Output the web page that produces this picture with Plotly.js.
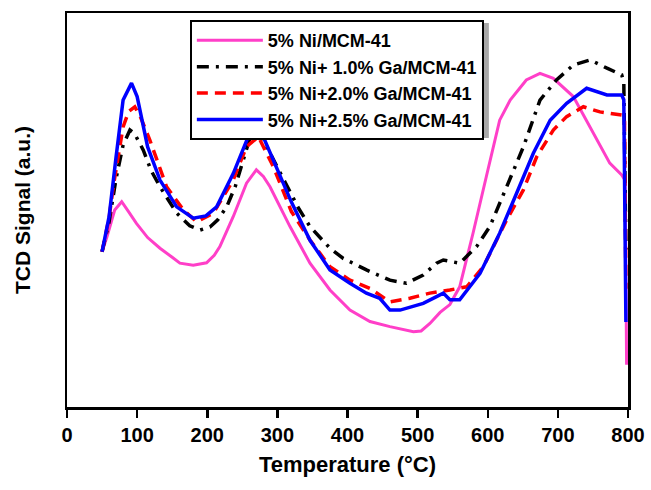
<!DOCTYPE html>
<html>
<head>
<meta charset="utf-8">
<script src="https://cdn.plot.ly/plotly-3.0.1.min.js"></script>
<style>html,body{margin:0;padding:0;background:#fff;}#chart{width:651px;height:490px;}</style>
</head>
<body>
<div id="chart"></div>
<script>
// Series names (legend labels)
const names = ["5% Ni/MCM-41", "5% Ni+ 1.0% Ga/MCM-41", "5% Ni+2.0% Ga/MCM-41", "5% Ni+2.5% Ga/MCM-41"];

// 5% Ni/MCM-41 (pink)
const tNi = [50,57,68,78,88,99,115,132.6,150,161,180,199,210,218,237,256,270,280,289.5,313,318,346.5,375,403.5,432,460.5,494,505,517.5,532,546,560,579,598,617,632,655,674.5,693.5,722,750.6,774,791,796,798];
const sNi = [39.4,43.2,50,52.1,49.5,46.6,43,40.3,38,36.5,36,36.6,38.5,40.7,48.3,56.8,60.2,58.5,55.9,47.5,45.8,36.5,29.7,24.6,21.7,20.4,19.1,19.3,21.2,24,26,30.5,44.1,58.5,72.8,77.9,83,84.7,83.4,78.8,69.5,61.9,58.9,57.5,10.7];

// 5% Ni+1.0% Ga/MCM-41 (black dash-dot)
const tGa10 = [50,60,70,80,89.8,96,108.8,120,132.6,156.4,175,189.6,203.9,215,227.7,240,251.4,265.7,272,284.7,300,313.2,330,346.5,375,394,427,460.5,484,508,527,536.6,560,584,603,627,651,674.5,698,722,746,770,791,794,797];
const sGa10 = [39.4,47,58,66.5,70.3,69.5,65.2,60,55.9,49.2,46,44.9,45.7,47.5,50.8,56,62.7,71.1,70.5,66.1,60.5,55.9,50.5,45.8,40.3,37.7,34.8,32.2,31.4,33.5,36.5,37.3,36.5,40.7,45.8,55.9,66.1,77.9,83,86.8,88.1,86,84.3,82.6,40];

// 5% Ni+2.0% Ga/MCM-41 (red dashed)
const tGa20 = [50,60,66,80,88,96.7,105,118,142,166,185,208.7,237,256,272.9,294.2,320,346.5,375,403.5,432,460.5,489,517.5,546,570,593.7,627,650.8,669.8,693.5,712.5,736.3,760,791,795,797];
const sGa20 = [39.4,48,55.9,71.1,75,76.2,73.5,67.8,55.9,50,47,49.2,57.6,66.1,68.6,61,49.6,42.4,35.6,32.2,30.1,26.7,27.6,28.9,29.7,30.5,35.6,47.5,55.1,63.5,70.3,73.7,76.2,74.9,74.1,73.5,30];

// 5% Ni+2.5% Ga/MCM-41 (blue)
const tGa25 = [50,60,70,80,92,100,115,132.6,156.4,180,198,213.4,237.2,256.2,268,280,294.2,320,346.5,375,403.5,427,446,460.5,475,494,508,527,536.6,546,560,589,617,641,665,689,712.5,741,770,791,794,797];
const sGa25 = [39.4,48.3,63.5,77.9,82.2,78.8,66,57.6,50.8,47.9,48.5,50.8,59.3,67.8,72.8,68.5,62.7,52,42.3,34.8,31.4,28.9,27.6,24.6,24.6,25.5,26.3,28,28.9,27.2,27.2,33.9,44.1,54.2,64.4,72.8,77.1,80.9,79.2,79.2,78,21.6];

// X-axis tick values/labels
const xTicks = [0,100,200,300,400,500,600,700,800];
const xTickText = ["0","100","200","300","400","500","600","700","800"];

const FONT = "Arial, 'Liberation Sans', sans-serif";

const traces = [
  {x: tNi,   y: sNi,   name: names[0], legendgroup: "a", line: {color: "#FF3FC8", width: 3}},
  {x: tGa10, y: sGa10, name: names[1], legendgroup: "b", line: {color: "#000000", width: 3.5, dash: "12px,7px,3px,7px"}},
  {x: tGa20, y: sGa20, name: names[2], legendgroup: "c", line: {color: "#FF0000", width: 3.5, dash: "11px,7px"}},
  {x: tGa25, y: sGa25, name: names[3], legendgroup: "d", line: {color: "#0000FF", width: 3.5}}
].map(t => Object.assign({type: "scatter", mode: "lines"}, t));

// legend drop shadow (paper coordinates, offset a few px right/down)
const shadow = {type: "rect", xref: "paper", yref: "paper", x0: 0.2246, x1: 0.752, y0: 0.683, y1: 0.9746,
  fillcolor: "#a8a8a8", line: {width: 0}, layer: "below"};

const layout = {
  width: 651, height: 490,
  margin: {l: 67, r: 23, t: 13, b: 83},
  paper_bgcolor: "#fff", plot_bgcolor: "#fff",
  showlegend: true,
  shapes: [shadow],
  legend: {
    x: 0.219, y: 0.982, xanchor: "left", yanchor: "top",
    bgcolor: "#fff", bordercolor: "#000", borderwidth: 2,
    font: {family: FONT, size: 18, color: "#000", weight: "bold"},
    tracegroupgap: 0, itemwidth: 66
  },
  xaxis: {
    range: [0, 800], tickvals: xTicks, ticktext: xTickText,
    ticks: "outside", ticklen: 8, tickwidth: 2.5, tickcolor: "#000",
    showline: true, linewidth: 2.5, linecolor: "#000", mirror: true,
    showgrid: false, zeroline: false,
    tickfont: {family: FONT, size: 20, color: "#000", weight: "bold"},
    title: {text: "Temperature (°C)", font: {family: FONT, size: 22, color: "#000", weight: "bold"}, standoff: 12}
  },
  yaxis: {
    range: [0, 100], showticklabels: false, ticks: "",
    showline: true, linewidth: 2.5, linecolor: "#000", mirror: true,
    showgrid: false, zeroline: false,
    title: {text: "TCD Signal (a.u.)", font: {family: FONT, size: 21, color: "#000", weight: "bold"}, standoff: 28}
  }
};

Plotly.newPlot("chart", traces, layout, {displayModeBar: false, staticPlot: true});
</script>
</body>
</html>
